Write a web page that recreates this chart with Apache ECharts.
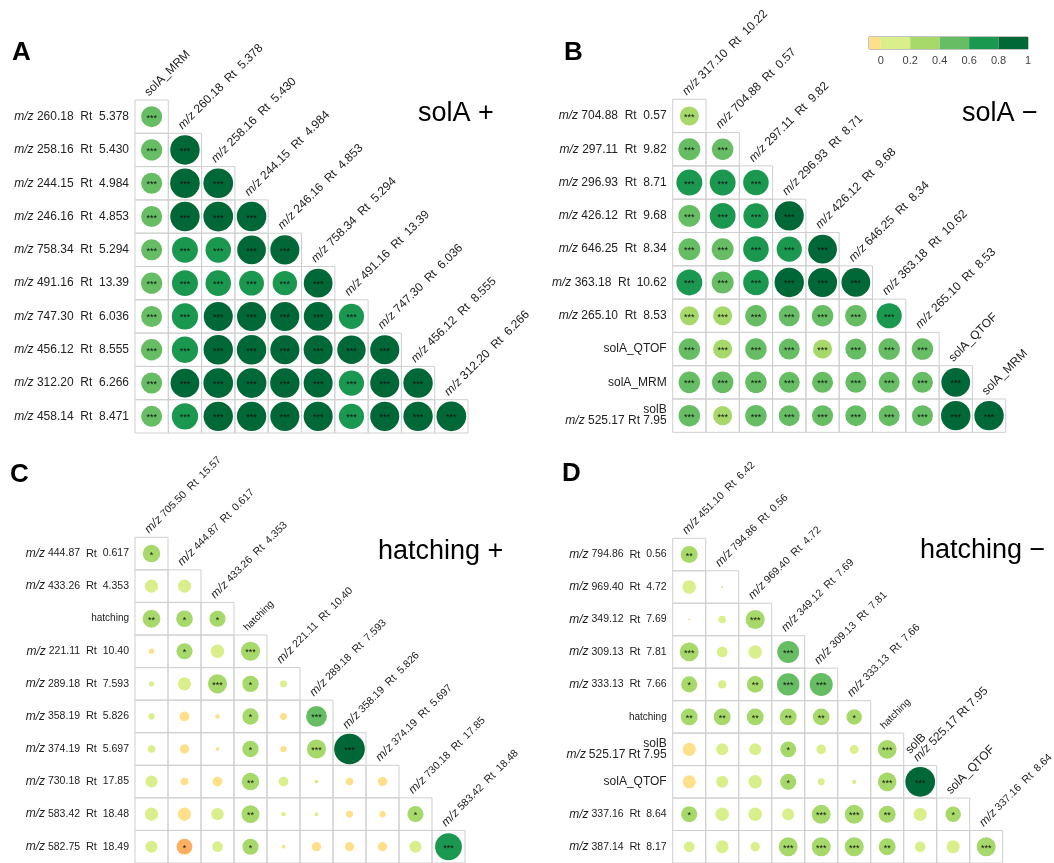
<!DOCTYPE html>
<html>
<head>
<meta charset="utf-8">
<script src="https://cdn.jsdelivr.net/npm/echarts@6/dist/echarts.min.js"></script>
<style>
  html, body { margin: 0; padding: 0; background: #fff; }
  #main { width: 1054px; height: 863px; }
</style>
</head>
<body>
<div id="main"></div>
<script>
// ---- data: labels, correlation values (lower triangle, row by row), significance ----
var rowsA = ['m/z 260.18  Rt  5.378', 'm/z 258.16  Rt  5.430', 'm/z 244.15  Rt  4.984', 'm/z 246.16  Rt  4.853', 'm/z 758.34  Rt  5.294',
  'm/z 491.16  Rt  13.39', 'm/z 747.30  Rt  6.036', 'm/z 456.12  Rt  8.555', 'm/z 312.20  Rt  6.266', 'm/z 458.14  Rt  8.471'];
var colsA = ['solA_MRM', 'm/z 260.18  Rt  5.378', 'm/z 258.16  Rt  5.430', 'm/z 244.15  Rt  4.984', 'm/z 246.16  Rt  4.853',
  'm/z 758.34  Rt  5.294', 'm/z 491.16  Rt  13.39', 'm/z 747.30  Rt  6.036', 'm/z 456.12  Rt  8.555', 'm/z 312.20  Rt  6.266'];
var valsA = [
  [0.46],
  [0.47, 0.90],
  [0.46, 0.91, 0.92],
  [0.46, 0.90, 0.92, 0.91],
  [0.46, 0.70, 0.68, 0.86, 0.88],
  [0.47, 0.70, 0.68, 0.64, 0.62, 0.86],
  [0.46, 0.72, 0.88, 0.88, 0.87, 0.86, 0.66],
  [0.47, 0.72, 0.90, 0.90, 0.88, 0.88, 0.84, 0.88],
  [0.46, 0.86, 0.92, 0.92, 0.90, 0.88, 0.66, 0.88, 0.90],
  [0.46, 0.72, 0.90, 0.90, 0.88, 0.88, 0.66, 0.88, 0.90, 0.92]
];
var starsA = [
  ['***'],
  ['***', '***'],
  ['***', '***', '***'],
  ['***', '***', '***', '***'],
  ['***', '***', '***', '***', '***'],
  ['***', '***', '***', '***', '***', '***'],
  ['***', '***', '***', '***', '***', '***', '***'],
  ['***', '***', '***', '***', '***', '***', '***', '***'],
  ['***', '***', '***', '***', '***', '***', '***', '***', '***'],
  ['***', '***', '***', '***', '***', '***', '***', '***', '***', '***']
];

var rowsB = ['m/z 704.88  Rt  0.57', 'm/z 297.11  Rt  9.82', 'm/z 296.93  Rt  8.71', 'm/z 426.12  Rt  9.68', 'm/z 646.25  Rt  8.34',
  'm/z 363.18  Rt  10.62', 'm/z 265.10  Rt  8.53', 'solA_QTOF', 'solA_MRM', 'solB\nm/z 525.17 Rt 7.95'];
var colsB = ['m/z 317.10  Rt  10.22', 'm/z 704.88  Rt  0.57', 'm/z 297.11  Rt  9.82', 'm/z 296.93  Rt  8.71', 'm/z 426.12  Rt  9.68',
  'm/z 646.25  Rt  8.34', 'm/z 363.18  Rt  10.62', 'm/z 265.10  Rt  8.53', 'solA_QTOF', 'solA_MRM'];
var valsB = [
  [0.38],
  [0.50, 0.48],
  [0.70, 0.70, 0.68],
  [0.50, 0.70, 0.66, 0.88],
  [0.50, 0.50, 0.68, 0.66, 0.86],
  [0.70, 0.50, 0.68, 0.90, 0.88, 0.86],
  [0.38, 0.38, 0.48, 0.46, 0.48, 0.48, 0.66],
  [0.48, 0.38, 0.48, 0.46, 0.38, 0.46, 0.48, 0.48],
  [0.48, 0.48, 0.48, 0.46, 0.46, 0.46, 0.46, 0.46, 0.86],
  [0.48, 0.38, 0.48, 0.46, 0.46, 0.46, 0.46, 0.46, 0.90, 0.90]
];
var starsB = starsA;

var rowsC = ['m/z 444.87  Rt  0.617', 'm/z 433.26  Rt  4.353', 'hatching', 'm/z 221.11  Rt  10.40', 'm/z 289.18  Rt  7.593',
  'm/z 358.19  Rt  5.826', 'm/z 374.19  Rt  5.697', 'm/z 730.18  Rt  17.85', 'm/z 583.42  Rt  18.48', 'm/z 582.75  Rt  18.49'];
var colsC = ['m/z 705.50  Rt  15.57', 'm/z 444.87  Rt  0.617', 'm/z 433.26  Rt  4.353', 'hatching', 'm/z 221.11  Rt  10.40',
  'm/z 289.18  Rt  7.593', 'm/z 358.19  Rt  5.826', 'm/z 374.19  Rt  5.697', 'm/z 730.18  Rt  17.85', 'm/z 583.42  Rt  18.48'];
var valsC = [
  [0.32],
  [0.18, 0.18],
  [0.33, 0.29, 0.27],
  [-0.03, 0.27, 0.19, 0.38],
  [0.03, 0.18, 0.38, 0.28, 0.05],
  [0.04, -0.10, -0.02, 0.28, -0.05, 0.45],
  [0.06, -0.09, -0.015, 0.28, -0.04, 0.38, 0.98],
  [0.15, -0.06, -0.10, 0.32, 0.10, 0.015, -0.06, -0.09],
  [0.18, -0.18, 0.16, 0.33, 0.02, 0.015, -0.05, -0.04, 0.27],
  [0.15, -0.26, 0.12, 0.27, -0.015, -0.09, -0.09, -0.09, 0.15, 0.75]
];
var starsC = [
  ['*'],
  ['', ''],
  ['**', '*', '*'],
  ['', '*', '', '***'],
  ['', '', '***', '*', ''],
  ['', '', '', '*', '', '***'],
  ['', '', '', '*', '', '***', '***'],
  ['', '', '', '**', '', '', '', ''],
  ['', '', '', '**', '', '', '', '', '*'],
  ['', '*', '', '*', '', '', '', '', '', '***']
];

var rowsD = ['m/z 794.86  Rt  0.56', 'm/z 969.40  Rt  4.72', 'm/z 349.12  Rt  7.69', 'm/z 309.13  Rt  7.81', 'm/z 333.13  Rt  7.66',
  'hatching', 'solB\nm/z 525.17 Rt 7.95', 'solA_QTOF', 'm/z 337.16  Rt  8.64', 'm/z 387.14  Rt  8.17'];
var colsD = ['m/z 451.10  Rt  6.42', 'm/z 794.86  Rt  0.56', 'm/z 969.40  Rt  4.72', 'm/z 349.12  Rt  7.69', 'm/z 309.13  Rt  7.81',
  'm/z 333.13  Rt  7.66', 'hatching', 'solB\nm/z 525.17 Rt 7.95', 'solA_QTOF', 'm/z 337.16  Rt  8.64'];
var valsD = [
  [0.30],
  [0.19, 0.005],
  [-0.005, 0.06, 0.38],
  [0.37, 0.12, 0.19, 0.50],
  [0.27, 0.07, 0.29, 0.52, 0.55],
  [0.30, 0.30, 0.30, 0.30, 0.29, 0.25],
  [-0.18, 0.15, 0.15, 0.26, 0.10, 0.08, 0.36],
  [-0.18, 0.15, 0.19, 0.27, 0.05, 0.02, 0.36, 0.92],
  [0.27, 0.19, 0.19, 0.15, 0.37, 0.37, 0.30, 0.18, 0.25],
  [0.12, 0.17, 0.09, 0.37, 0.38, 0.38, 0.30, 0.12, 0.18, 0.38]
];
var starsD = [
  ['**'],
  ['', ''],
  ['', '', '***'],
  ['***', '', '', '***'],
  ['*', '', '**', '***', '***'],
  ['**', '**', '**', '**', '**', '*'],
  ['', '', '', '*', '', '', '***'],
  ['', '', '', '*', '', '', '***', '***'],
  ['*', '', '', '', '***', '***', '**', '', '*'],
  ['', '', '', '***', '***', '***', '**', '', '', '***']
];

// colour key (RdYlGn classes) and colorbar segments
var breaks = [-0.4, -0.2, 0, 0.2, 0.4, 0.6, 0.8, 1];
var classColors = ['#fdae61', '#fee08b', '#d9ef8b', '#a6d96a', '#66bd63', '#1a9850', '#006837'];
var barSegments = [-0.08, 0.2, 0.2, 0.2, 0.2, 0.2];
var barColors = ['#fee08b', '#d9ef8b', '#a6d96a', '#66bd63', '#1a9850', '#006837'];
var barTicks = [0, 0.2, 0.4, 0.6, 0.8, 1];

var FONT = "'Liberation Sans', Arial, sans-serif";
var rich = {
  i: { fontStyle: 'italic', fontSize: 12, fontFamily: FONT, color: '#222' },
  b: { fontSize: 12, fontFamily: FONT, color: '#222' },
  r: { fontSize: 11, fontFamily: FONT, color: '#222' },
  n: { fontSize: 10.5, fontFamily: FONT, color: '#222' },
  h: { fontSize: 10, fontFamily: FONT, color: '#222' }
};

// m/z in italics; in C/D the numbers are a bit smaller
function fmt(s, small) {
  var big = !small || /sol/.test(s);
  return s.split('\n').map(function (line) {
    return line.split(' ').map(function (t) {
      if (t === '') return '';
      if (t === 'm/z') return '{i|m/z}';
      if (big) return '{b|' + t + '}';
      if (t === 'Rt') return '{r|Rt}';
      if (t === 'hatching') return '{h|hatching}';
      return '{n|' + t + '}';
    }).join(' ');
  }).join('\n');
}

var panels = [
  { rows: rowsA, cols: colsA, vals: valsA, stars: starsA, left: 135, top: 100, cell: 33.3, small: false },
  { rows: rowsB, cols: colsB, vals: valsB, stars: starsB, left: 672.7, top: 99.3, cell: 33.3, small: false },
  { rows: rowsC, cols: colsC, vals: valsC, stars: starsC, left: 135, top: 537.3, cell: 33, small: true },
  { rows: rowsD, cols: colsD, vals: valsD, stars: starsD, left: 672.7, top: 538.3, cell: 33, small: true }
];

var grid = [], xAxis = [], yAxis = [], series = [], scatterIdx = [];

panels.forEach(function (p, k) {
  grid.push({ left: p.left, top: p.top, width: p.cell * 10, height: p.cell * 10 });
  xAxis.push({ gridIndex: k, type: 'category', data: p.cols, show: false });
  yAxis.push({
    gridIndex: k, type: 'category', data: p.rows, inverse: true,
    axisLine: { show: false }, axisTick: { show: false }, splitLine: { show: false },
    axisLabel: {
      interval: 0, margin: 6, color: '#222', fontFamily: FONT,
      fontSize: p.small ? 10.5 : 12, lineHeight: 11,
      formatter: function (v) { return fmt(v, p.small); },
      rich: rich
    }
  });

  var cells = [], points = [];
  p.vals.forEach(function (row, i) {
    row.forEach(function (r, j) {
      cells.push([j, i]);
      points.push([j, i, r, p.stars[i][j]]);
    });
  });

  // cell boxes
  series.push({
    type: 'custom', xAxisIndex: k, yAxisIndex: k, silent: true, data: cells,
    renderItem: function (params, api) {
      var c = api.coord([api.value(0), api.value(1)]);
      var s = api.size([1, 1]);
      return {
        type: 'rect',
        shape: { x: c[0] - s[0] / 2, y: c[1] - s[1] / 2, width: s[0], height: s[1] },
        style: { fill: 'none', stroke: '#cfcfcf', lineWidth: 1 }
      };
    }
  });

  // rotated column headers above the top cell of each column
  series.push({
    type: 'custom', xAxisIndex: k, yAxisIndex: k, silent: true,
    data: p.cols.map(function (c, j) { return [j, j]; }),
    renderItem: function (params, api) {
      var j = api.value(0);
      var c = api.coord([j, j]);
      var s = api.size([1, 1]);
      return {
        type: 'text', x: c[0] - 1, y: c[1] - s[1] / 2 - 2, rotation: Math.PI / 4,
        style: {
          text: fmt(p.cols[j], p.small), rich: rich, align: 'left', verticalAlign: 'bottom',
          fill: '#222', fontSize: p.small ? 10.5 : 12, fontFamily: FONT, lineHeight: 11
        }
      };
    }
  });

  scatterIdx.push(series.length);
  series.push({
    type: 'scatter', xAxisIndex: k, yAxisIndex: k, silent: true, data: points,
    symbolSize: function (v) { return 31 * Math.sqrt(Math.abs(v[2])); },
    itemStyle: { opacity: 1 },
    label: {
      show: true, position: 'inside', offset: [0, 1.5], fontSize: 9, color: '#111', fontFamily: FONT,
      formatter: function (q) { return q.value[3]; }
    }
  });
});

// colorbar
grid.push({ left: 869, top: 37, width: 159, height: 12, show: true, borderColor: '#888', borderWidth: 1 });
xAxis.push({
  gridIndex: 4, type: 'value', min: -0.08, max: 1,
  axisLine: { show: false }, axisTick: { show: false }, splitLine: { show: false },
  axisLabel: { customValues: barTicks, margin: 6, fontSize: 11, color: '#444', fontFamily: FONT }
});
yAxis.push({ gridIndex: 4, type: 'category', data: ['r'], show: false });
barSegments.forEach(function (v, n) {
  series.push({
    type: 'bar', xAxisIndex: 4, yAxisIndex: 4, stack: 'cb', silent: true,
    data: [v], barWidth: '100%', itemStyle: { color: barColors[n] }
  });
});

var pieces = classColors.map(function (c, n) {
  return { gte: breaks[n], lt: breaks[n + 1], color: c };
});
pieces[pieces.length - 1].lte = 1;

var titleBig = { fontSize: 26, fontWeight: 'bold', color: '#000', fontFamily: FONT };
var titleSub = { fontSize: 27, fontWeight: 'normal', color: '#000', fontFamily: FONT };

var myChart = echarts.init(document.getElementById('main'));
myChart.setOption({
  animation: false,
  backgroundColor: '#fff',
  title: [
    { text: 'A', left: 12, top: 40, padding: 0, textStyle: titleBig },
    { text: 'B', left: 564, top: 40, padding: 0, textStyle: titleBig },
    { text: 'C', left: 10, top: 462, padding: 0, textStyle: titleBig },
    { text: 'D', left: 562, top: 461, padding: 0, textStyle: titleBig },
    { text: 'solA +', left: 418, top: 100, padding: 0, textStyle: titleSub },
    { text: 'solA \u2212', left: 962, top: 100, padding: 0, textStyle: titleSub },
    { text: 'hatching +', left: 378, top: 538, padding: 0, textStyle: titleSub },
    { text: 'hatching \u2212', left: 920, top: 537, padding: 0, textStyle: titleSub }
  ],
  visualMap: {
    type: 'piecewise', show: false, dimension: 2, seriesIndex: scatterIdx, pieces: pieces
  },
  grid: grid,
  xAxis: xAxis,
  yAxis: yAxis,
  series: series
});
</script>
</body>
</html>
